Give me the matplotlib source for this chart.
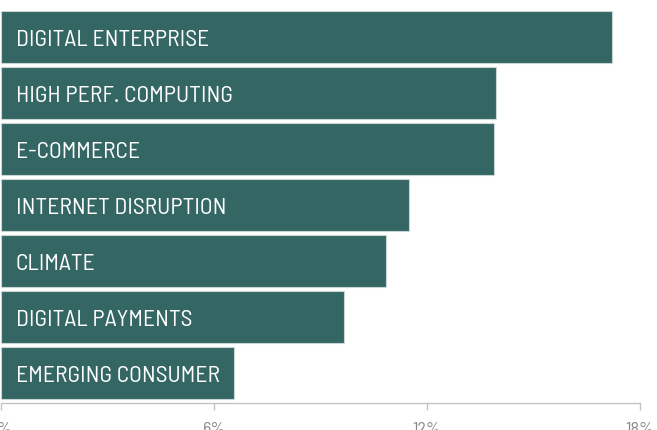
import matplotlib.pyplot as plt

themes = ["DIGITAL ENTERPRISE", "HIGH PERF. COMPUTING", "E-COMMERCE",
          "INTERNET DISRUPTION", "CLIMATE", "DIGITAL PAYMENTS", "EMERGING CONSUMER"]
weights = [17.2, 13.95, 13.9, 11.5, 10.85, 9.65, 6.55]
ticks = [0, 6, 12, 18]
tick_labels = ["0%", "6%", "12%", "18%"]

font = ["Barlow Semi Condensed", "DejaVu Sans"]
bar_color = "#346663"

fig = plt.figure(figsize=(6.57, 4.30), dpi=100)
ax = fig.add_axes([1 / 657, 1 - 403 / 430, 639 / 657, 392 / 430])

y = list(range(len(themes)))
ax.barh(y, weights, height=0.92, color=bar_color, edgecolor="#c9d6d4", linewidth=0.8)
for i, name in enumerate(themes):
    ax.text(0.42, i + 0.06, name, color="white", va="center", ha="left",
            fontsize=17, family=font)

ax.set_xlim(0, 18)
ax.set_ylim(6.54, -0.46)
ax.set_yticks([])
ax.set_xticks(ticks)
ax.set_xticklabels(tick_labels, family=font)
ax.tick_params(axis="x", direction="out", length=5, width=1, color="#c4c4c4",
               labelcolor="#8a8a8a", labelsize=13, pad=9)
for side in ["top", "right", "left"]:
    ax.spines[side].set_visible(False)
ax.spines["bottom"].set_color("#c4c4c4")
ax.spines["bottom"].set_linewidth(1)

fig.savefig("out.png", dpi=100)
